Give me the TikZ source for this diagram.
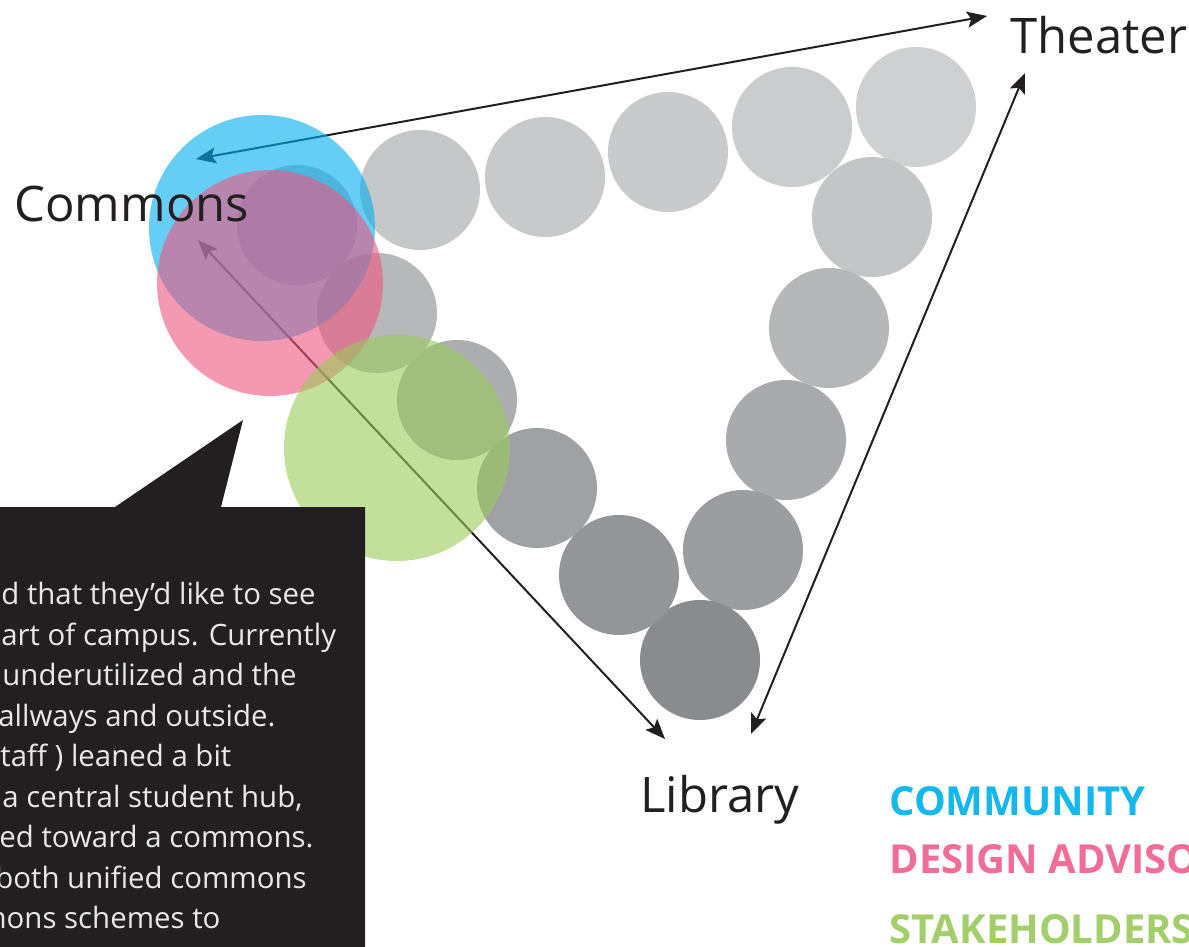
\documentclass[tikz,border=0pt]{standalone}
\usepackage{fontspec}
\setmainfont{Open Sans}
\usetikzlibrary{arrows.meta}
\definecolor{ink}{HTML}{231F20}
\definecolor{boxtext}{HTML}{E8E8E8}
\definecolor{cblue}{HTML}{00AEEF}
\definecolor{cpink}{HTML}{EE5580}
\definecolor{cgreen}{HTML}{99CA5A}
\definecolor{lblue}{HTML}{14B8EC}
\definecolor{lpink}{HTML}{F06D95}
\definecolor{lgreen}{HTML}{A2CF6A}
\tikzset{
  blob/.style={circle, minimum size=60pt, inner sep=0},
  bigblob/.style={circle, minimum size=113pt, inner sep=0, fill opacity=0.6},
  place/.style={anchor=base west, inner sep=0, text=ink, font=\fontsize{24.5}{28}\selectfont},
  boxline/.style={anchor=base west, inner sep=0, text=boxtext, font=\fontsize{14.7}{18}\selectfont},
  legend/.style={anchor=base west, inner sep=0, font=\bfseries\fontsize{20}{24}\selectfont},
  link/.style={draw=ink, line width=1pt, {Stealth[length=10pt,width=8pt,inset=2pt]}-{Stealth[length=10pt,width=8pt,inset=2pt]}}
}
\begin{document}
\begin{tikzpicture}[x=0.5pt,y=-0.5pt]
\useasboundingbox (0,0) rectangle (1189,947);
\clip (0,0) rectangle (1189,947);
% grey circles
\node[blob, fill={rgb,255:red,191;green,192;blue,194}] (g1) at (297,225) {};
\node[blob, fill={rgb,255:red,198;green,199;blue,201}] (g2) at (420,190) {};
\node[blob, fill={rgb,255:red,200;green,201;blue,203}] (g3) at (545,177) {};
\node[blob, fill={rgb,255:red,201;green,202;blue,204}] (g4) at (668,152) {};
\node[blob, fill={rgb,255:red,203;green,204;blue,205}] (g5) at (792,127) {};
\node[blob, fill={rgb,255:red,207;green,208;blue,209}] (g6) at (916,107) {};
\node[blob, fill={rgb,255:red,196;green,197;blue,199}] (g7) at (872,217) {};
\node[blob, fill={rgb,255:red,182;green,183;blue,185}] (g8) at (829,328) {};
\node[blob, fill={rgb,255:red,169;green,170;blue,173}] (g9) at (786,440) {};
\node[blob, fill={rgb,255:red,156;green,157;blue,160}] (g10) at (743,550) {};
\node[blob, fill={rgb,255:red,138;green,139;blue,143}] (g11) at (700,660) {};
\node[blob, fill={rgb,255:red,148;green,149;blue,152}] (g12) at (619,575) {};
\node[blob, fill={rgb,255:red,160;green,161;blue,164}] (g13) at (537,488) {};
\node[blob, fill={rgb,255:red,172;green,173;blue,176}] (g14) at (457,400) {};
\node[blob, fill={rgb,255:red,183;green,184;blue,186}] (g15) at (377,313) {};
% arrow ends
\coordinate (ct) at (196,159);
\coordinate (tc) at (987,16);
\coordinate (cl) at (198,240);
\coordinate (lc) at (665,739);
\coordinate (tl) at (1025,73);
\coordinate (lt) at (751,734);
\draw[link] (ct) -- (tc);
\draw[link] (cl) -- (lc);
\draw[link] (tl) -- (lt);
% translucent group circles
\node[bigblob, fill=cblue] (community) at (262,228) {};
\node[bigblob, fill=cpink] (design) at (270,283) {};
\node[bigblob, fill=cgreen] (stake) at (397,448) {};
% labels
\node[place] (theater) at (1010,54) {Theater};
\node[place] (commons) at (14,221) {Commons};
\node[place] (library) at (640,812) {Library};
% speech bubble
\fill[ink] (-5,507) -- (115,507) -- (243,420) -- (221,507) -- (365,507) -- (365,960) -- (-5,960) -- cycle;
\node[boxline] (t1) at (1,604) {d that they’d like to see};
\node[boxline] (t2) at (1,645) {art of campus. Currently};
\node[boxline] (t3) at (2,685) {underutilized and the};
\node[boxline] (t4) at (-2,726) {allways and outside.};
\node[boxline] (t5) at (0,766) {taff ) leaned a bit};
\node[boxline] (t6) at (2,807) {a central student hub,};
\node[boxline] (t7) at (-1,847) {ed toward a commons.};
\node[boxline] (t8) at (-5,888) {both unified commons};
\node[boxline] (t9) at (-21,928) {mons schemes to};
% legend
\node[legend, text=lblue] (lg1) at (889,815) {COMMUNITY};
\node[legend, text=lpink] (lg2) at (889,873) {DESIGN ADVISORS};
\node[legend, text=lgreen] (lg3) at (889,943) {STAKEHOLDERS};
\end{tikzpicture}
\end{document}
